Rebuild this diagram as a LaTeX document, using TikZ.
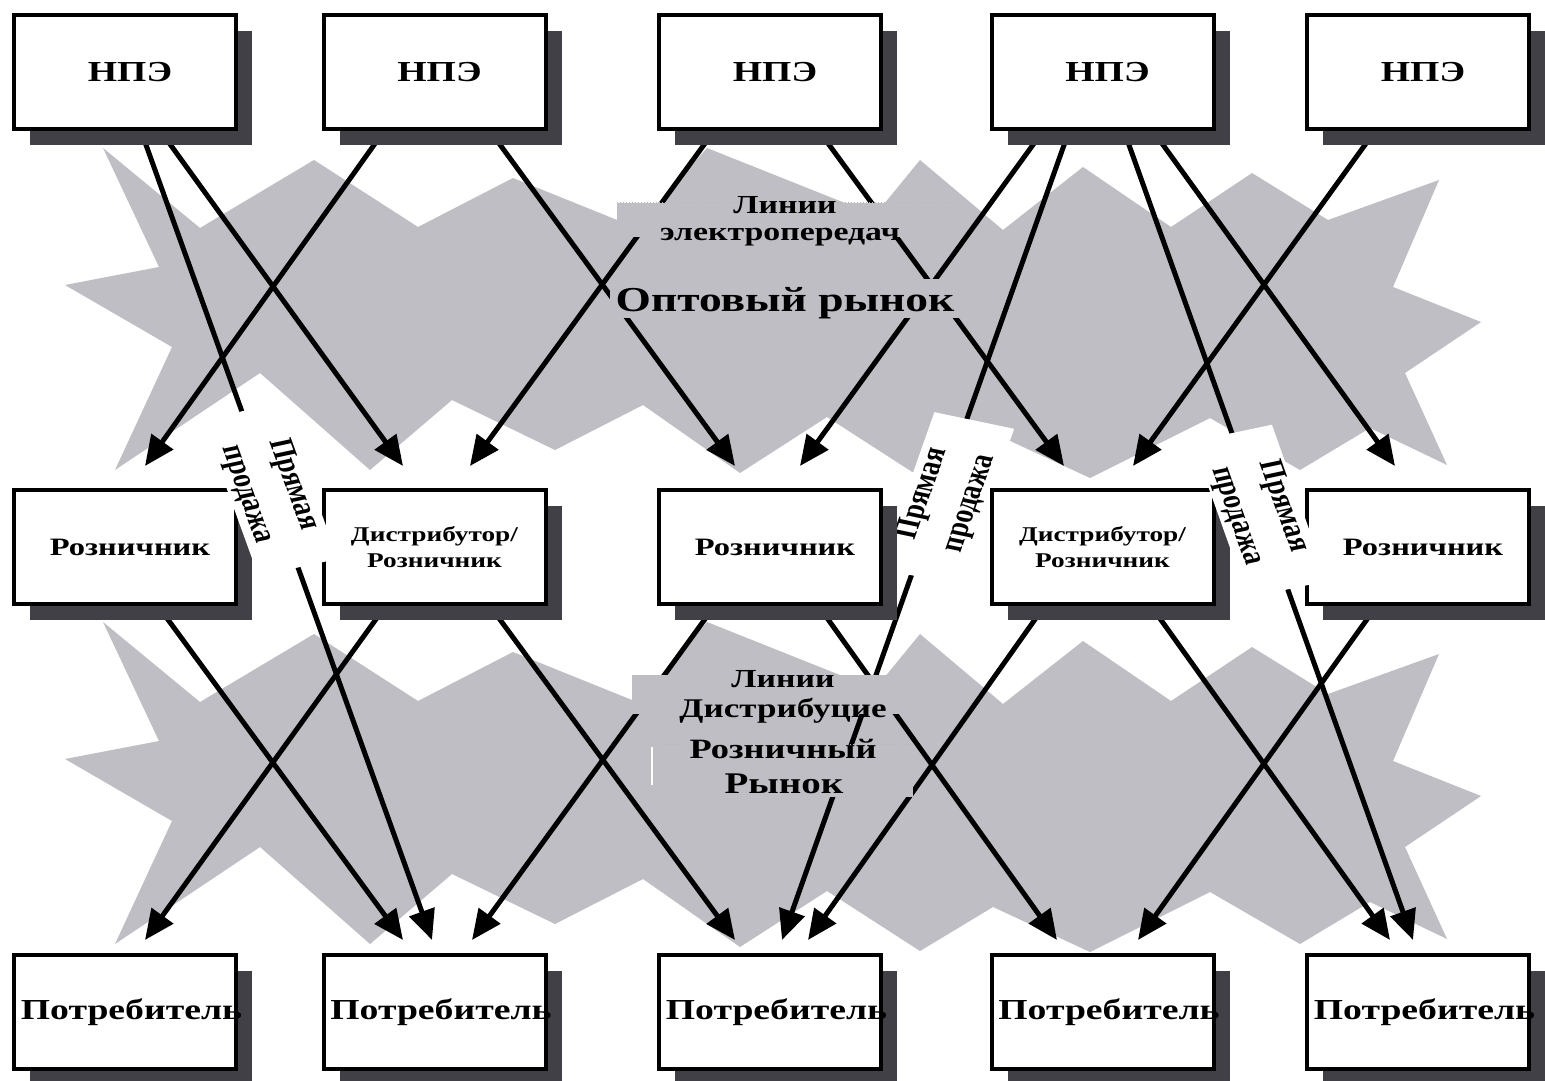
\documentclass[tikz,border=0pt]{standalone}
\usepackage{fontspec}
\setmainfont{Liberation Serif}[FakeStretch=1.3]
\newfontfamily\plainserif{Liberation Serif}
\usetikzlibrary{arrows.meta,shadows,calc}
\definecolor{stargray}{RGB}{190,190,196}
\definecolor{shadowgray}{RGB}{64,64,70}
\pgfdeclarelayer{bg}
\pgfdeclarelayer{arrowlayer}
\pgfdeclarelayer{textlayer}
\pgfdeclarelayer{toplayer}
\pgfsetlayers{bg,arrowlayer,textlayer,main,toplayer}
\newcommand\fixw[1]{\makebox[200pt][c]{#1}}
\begin{document}
\begin{tikzpicture}[x=1pt,y=-1pt,
  box/.style={draw=black, line width=4pt, fill=white, minimum width=222pt, minimum height=114pt,
    text width=, inner sep=0pt,
    font=\bfseries\fontsize{29}{32}\selectfont,
    general shadow={fill=shadowgray, shadow xshift=16pt, shadow yshift=-16pt}},
  smallbox/.style={box, font=\bfseries\fontsize{25}{28}\selectfont},
  distbox/.style={box, align=center, font=\bfseries\fontsize{21}{26}\selectfont},
  arr/.style={line width=5pt, -{Triangle[length=30pt,width=26pt]}},
  textbg/.style={fill=stargray, inner sep=0pt},
  mtext/.style={anchor=base, inner sep=0pt, font=\bfseries\fontsize{26}{30}\selectfont},
  lbl/.style={fill=white, transform shape, align=center, inner sep=2pt, minimum width=162pt, minimum height=60pt,
    font=\plainserif\bfseries\fontsize{26}{37}\selectfont},
  starburst/.pic={\fill[stargray] (103,148) -- (200,228) -- (314,160) -- (418,227) -- (513,178) -- (637,228) -- (707,148)
     -- (875,215) -- (920,160) -- (1003,230) -- (1083,167) -- (1171,227) -- (1252,173) -- (1328,220) -- (1439,180)
     -- (1393,287) -- (1481,322) -- (1405,373) -- (1447,465) -- (1370,428) -- (1300,470) -- (1210,418) -- (1090,478)
     -- (993,433) -- (920,477) -- (827,417) -- (740,473) -- (643,405) -- (555,450) -- (452,400) -- (370,470)
     -- (260,373) -- (115,470) -- (172,347) -- (65,285) -- (159,267) -- cycle;}
]
\clip (0,0) rectangle (1545,1081);

% ---------- boxes ----------
\node[box] (n1) at (125,72)  {\fixw{\hspace*{10pt}НПЭ}};
\node[box] (n2) at (434.5,72) {\fixw{\hspace*{10pt}НПЭ}};
\node[box] (n3) at (770,72)  {\fixw{\hspace*{10pt}НПЭ}};
\node[box] (n4) at (1102.5,72) {\fixw{\hspace*{10pt}НПЭ}};
\node[box] (n5) at (1418,72) {\fixw{\hspace*{10pt}НПЭ}};

\node[smallbox] (r1) at (125,547)  {\fixw{\hspace*{10pt}Розничник}};
\node[distbox]  (r2) at (434.5,547) {Дистрибутор/\\Розничник};
\node[smallbox] (r3) at (770,547)  {\fixw{\hspace*{10pt}Розничник}};
\node[distbox]  (r4) at (1102.5,547) {Дистрибутор/\\Розничник};
\node[smallbox] (r5) at (1418,547) {\fixw{\hspace*{10pt}Розничник}};

\node[box] (c1) at (125,1012)  {\fixw{\hspace*{13pt}Потребитель}};
\node[box] (c2) at (434.5,1012) {\fixw{\hspace*{13pt}Потребитель}};
\node[box] (c3) at (770,1012)  {\fixw{\hspace*{13pt}Потребитель}};
\node[box] (c4) at (1102.5,1012) {\fixw{\hspace*{13pt}Потребитель}};
\node[box] (c5) at (1418,1012) {\fixw{\hspace*{13pt}Потребитель}};

% ---------- background ----------
\begin{pgfonlayer}{bg}
  \fill[white] (0,0) rectangle (1545,1081);
  \pic at (0,0) {starburst};
  \pic at (0,474) {starburst};
\end{pgfonlayer}

% ---------- connectors ----------
\coordinate (L1s) at ([xshift=16pt]n1.south);
\coordinate (L1e) at ([xshift=-2.5pt,yshift=13pt]c2.north);
\coordinate (L8s) at ([xshift=-33.5pt]n4.south);
\coordinate (L8e) at ([xshift=12pt,yshift=13pt]c3.north);
\coordinate (L9s) at ([xshift=21.5pt]n4.south);
\coordinate (L9e) at ([xshift=-5pt,yshift=13pt]c5.north);
\begin{pgfonlayer}{arrowlayer}
  \draw[arr] (L1s) -- (L1e);
  \draw[arr] ([xshift=35.5pt]n1.south) -- ([xshift=-31.5pt,yshift=22pt]r2.north);
  \draw[arr] ([xshift=-50.5pt]n2.south) -- ([xshift=20pt,yshift=22pt]r1.north);
  \draw[arr] ([xshift=55.5pt]n2.south) -- ([xshift=-35pt,yshift=22pt]r3.north);
  \draw[arr] ([xshift=-56pt]n3.south) -- ([xshift=35.5pt,yshift=22pt]r2.north);
  \draw[arr] ([xshift=49pt]n3.south) -- ([xshift=-38.5pt,yshift=22pt]r4.north);
  \draw[arr] ([xshift=-59.5pt]n4.south) -- ([xshift=30pt,yshift=22pt]r3.north);
  \draw[arr] (L8s) -- (L8e);
  \draw[arr] (L9s) -- (L9e);
  \draw[arr] ([xshift=50.5pt]n4.south) -- ([xshift=-23pt,yshift=22pt]r5.north);
  \draw[arr] ([xshift=-43pt]n5.south) -- ([xshift=30.5pt,yshift=22pt]r4.north);

  \draw[arr] ([xshift=33pt]r1.south) -- ([xshift=-31.5pt,yshift=13pt]c2.north);
  \draw[arr] ([xshift=-49pt]r2.south) -- ([xshift=20pt,yshift=13pt]c1.north);
  \draw[arr] ([xshift=55.5pt]r2.south) -- ([xshift=-35pt,yshift=13pt]c3.north);
  \draw[arr] ([xshift=-55.5pt]r3.south) -- ([xshift=37.5pt,yshift=13pt]c2.north);
  \draw[arr] ([xshift=48.5pt]r3.south) -- ([xshift=-45.5pt,yshift=13pt]c4.north);
  \draw[arr] ([xshift=-58pt]r4.south) -- ([xshift=38pt,yshift=13pt]c3.north);
  \draw[arr] ([xshift=48.5pt]r4.south) -- ([xshift=-28pt,yshift=13pt]c5.north);
  \draw[arr] ([xshift=-41.5pt]r5.south) -- ([xshift=35.5pt,yshift=13pt]c4.north);
\end{pgfonlayer}

% ---------- market texts ----------
\begin{pgfonlayer}{textlayer}
  \node[textbg, minimum width=336pt, minimum height=34pt] (tA) at (785,220) {};
  \node[textbg, minimum width=352pt, minimum height=39pt] (tB) at (786,298.5) {};
  \node[textbg, minimum width=268pt, minimum height=39pt] (tC) at (766,694.5) {};
  \node[textbg, minimum width=261pt, minimum height=52pt] (tD) at (782.5,771) {};
  \draw[dotted, gray!55, line width=1pt] (tA.north west) -- (tA.north east);
  \draw[dotted, gray!55, line width=1pt] (tD.north west) -- (tD.north east);
  \draw[white, line width=1.5pt] ([yshift=-2pt]tD.north west) -- ++(0,38);

  \node[mtext] (lin1) at (785,213) {Линии};
  \node[mtext] (elec) at (780,240) {электропередач};
  \node[mtext, font=\bfseries\fontsize{35}{40}\selectfont] (opt) at (785,311) {Оптовый рынок};
  \node[mtext] (lin2) at (783,687) {Линии};
  \node[mtext, font=\bfseries\fontsize{27}{30}\selectfont] (dist) at (783,717) {Дистрибуцие};
  \node[mtext, font=\bfseries\fontsize{28}{31}\selectfont] (rozn) at (783,758) {Розничный};
  \node[mtext, font=\bfseries\fontsize{30}{34}\selectfont] (ryn) at (784,793) {Рынок};

  % middle direct-sale label sits below the boxes
  \begin{scope}[shift={($(L8s)!0.4525!(L8e)$)}, xscale=1.3, rotate=74.8]
    \node[lbl] (p2) at (0,6) {Прямая\\продажа};
  \end{scope}
\end{pgfonlayer}

% ---------- direct sale labels over the boxes ----------
\begin{pgfonlayer}{toplayer}
  \begin{scope}[shift={($(L1s)!0.443!(L1e)$)}, xscale=1.3, rotate=-74.4]
    \node[lbl] (p1) at (0,0) {Прямая\\продажа};
  \end{scope}
  \begin{scope}[shift={($(L9s)!0.47!(L9e)$)}, xscale=1.3, rotate=-74.7]
    \node[lbl] (p3) at (0,0) {Прямая\\продажа};
  \end{scope}
\end{pgfonlayer}
\end{tikzpicture}
\end{document}
